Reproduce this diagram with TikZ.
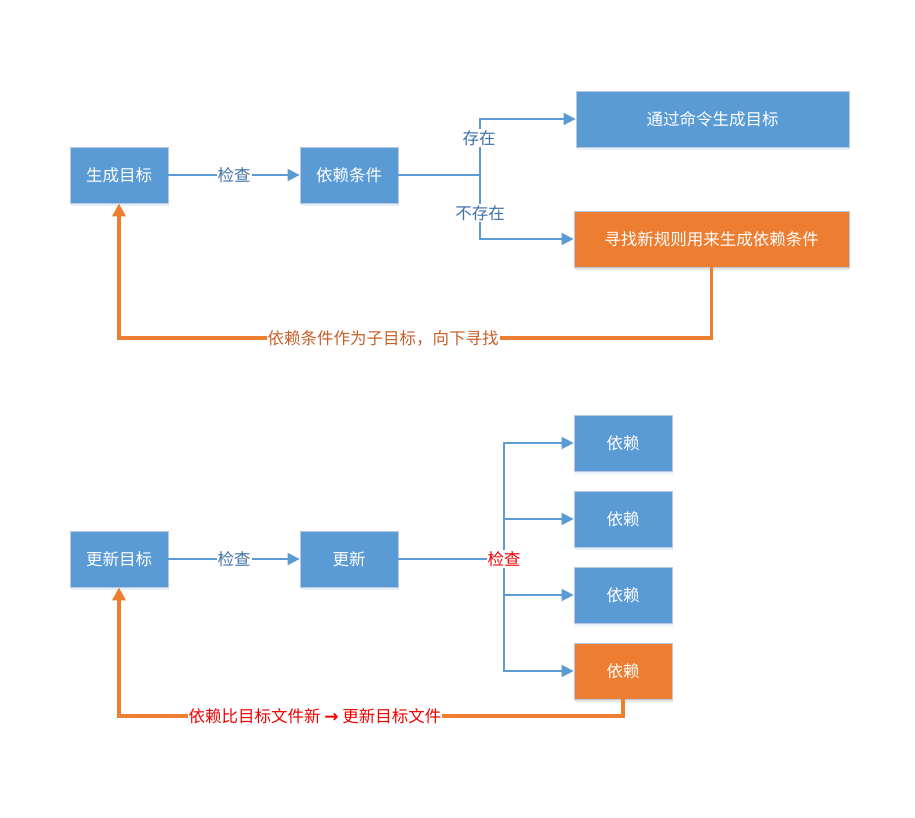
\documentclass[tikz,border=0pt]{standalone}
\usepackage{fontspec}
\setmainfont{Noto Sans CJK SC}
\newfontfamily\dejavu{DejaVu Sans}
\usetikzlibrary{arrows.meta,shadows}
\definecolor{boxblue}{RGB}{91,155,213}
\definecolor{boxorange}{RGB}{237,125,49}
\definecolor{edgegray}{RGB}{185,200,222}
\definecolor{lblblue}{RGB}{65,113,170}
\definecolor{lblorange}{RGB}{200,96,40}
\definecolor{lblred}{RGB}{240,0,0}
\begin{document}
\begin{tikzpicture}[x=1pt,y=-1pt,
  box/.style={rectangle,draw=edgegray,line width=0.8pt,fill=boxblue,text=white,
    font=\fontsize{16.5}{19}\selectfont,inner sep=0pt,
    drop shadow={shadow xshift=1pt,shadow yshift=-3pt,fill=boxblue!40,opacity=0.35}},
  obox/.style={box,fill=boxorange,drop shadow={shadow xshift=1pt,shadow yshift=-3pt,fill=boxorange!40,opacity=0.35}},
  conn/.style={draw=boxblue,line width=1.7pt,-{Triangle[length=12pt,width=12pt]}},
  plain/.style={draw=boxblue,line width=1.7pt},
  fb/.style={draw=boxorange,line width=3.2pt,-{Triangle[length=13pt,width=13pt]}},
  lbl/.style={fill=white,inner sep=1pt,font=\fontsize{16.5}{19}\selectfont},
]
\useasboundingbox (0,0) rectangle (915,817);
% ---------- top diagram ----------
\node[box,minimum width=98pt,minimum height=56pt] (gen) at (119,175) {生成目标};
\node[box,minimum width=98pt,minimum height=56pt] (dep) at (349,175) {依赖条件};
\node[box,minimum width=273pt,minimum height=56pt] (cmd) at (712.5,119) {通过命令生成目标};
\node[obox,minimum width=275pt,minimum height=56pt] (rule) at (711.5,239) {寻找新规则用来生成依赖条件};
\coordinate (j1) at (480,175);
\coordinate (fbt) at (119,338);

\draw[conn] (gen) -- (dep);
\draw[plain] (dep) -- (j1);
\draw[conn] (j1) |- (cmd);
\draw[conn] (j1) |- (rule);
\draw[fb] (rule.south) |- (fbt) -- (gen.south);

\node[lbl,text=lblblue] (l1) at (234,175) {检查};
\node[lbl,text=lblblue] (l2) at (479,138) {存在};
\node[lbl,text=lblblue] (l3) at (480,213) {不存在};
\node[lbl,text=lblorange] (l4) at (383,338) {依赖条件作为子目标，向下寻找};

% ---------- bottom diagram ----------
\node[box,minimum width=98pt,minimum height=56pt] (tgt) at (119,559) {更新目标};
\node[box,minimum width=98pt,minimum height=56pt] (upd) at (349,559) {更新};
\node[box,minimum width=98pt,minimum height=56pt] (d1) at (623,443) {依赖};
\node[box,minimum width=98pt,minimum height=56pt] (d2) at (623,519) {依赖};
\node[box,minimum width=98pt,minimum height=56pt] (d3) at (623,595) {依赖};
\node[obox,minimum width=98pt,minimum height=56pt] (d4) at (623,671) {依赖};
\coordinate (j2) at (504,559);
\coordinate (fbb) at (119,716);

\draw[conn] (tgt) -- (upd);
\draw[plain,line width=2.2pt] (upd) -- (j2);
\draw[conn] (j2) |- (d1);
\draw[conn] (j2) |- (d2);
\draw[conn] (j2) |- (d3);
\draw[conn] (j2) |- (d4);
\draw[fb] (d4.south) |- (fbb) -- (tgt.south);

\node[lbl,text=lblblue] (l5) at (234,559) {检查};
\node[lbl,text=lblred] (l6) at (504,559) {检查};
\node[lbl,text=lblred] (l7) at (315,716) {依赖比目标文件新 {\dejavu\bfseries\fontsize{17}{19}\selectfont →} 更新目标文件};
\end{tikzpicture}
\end{document}
